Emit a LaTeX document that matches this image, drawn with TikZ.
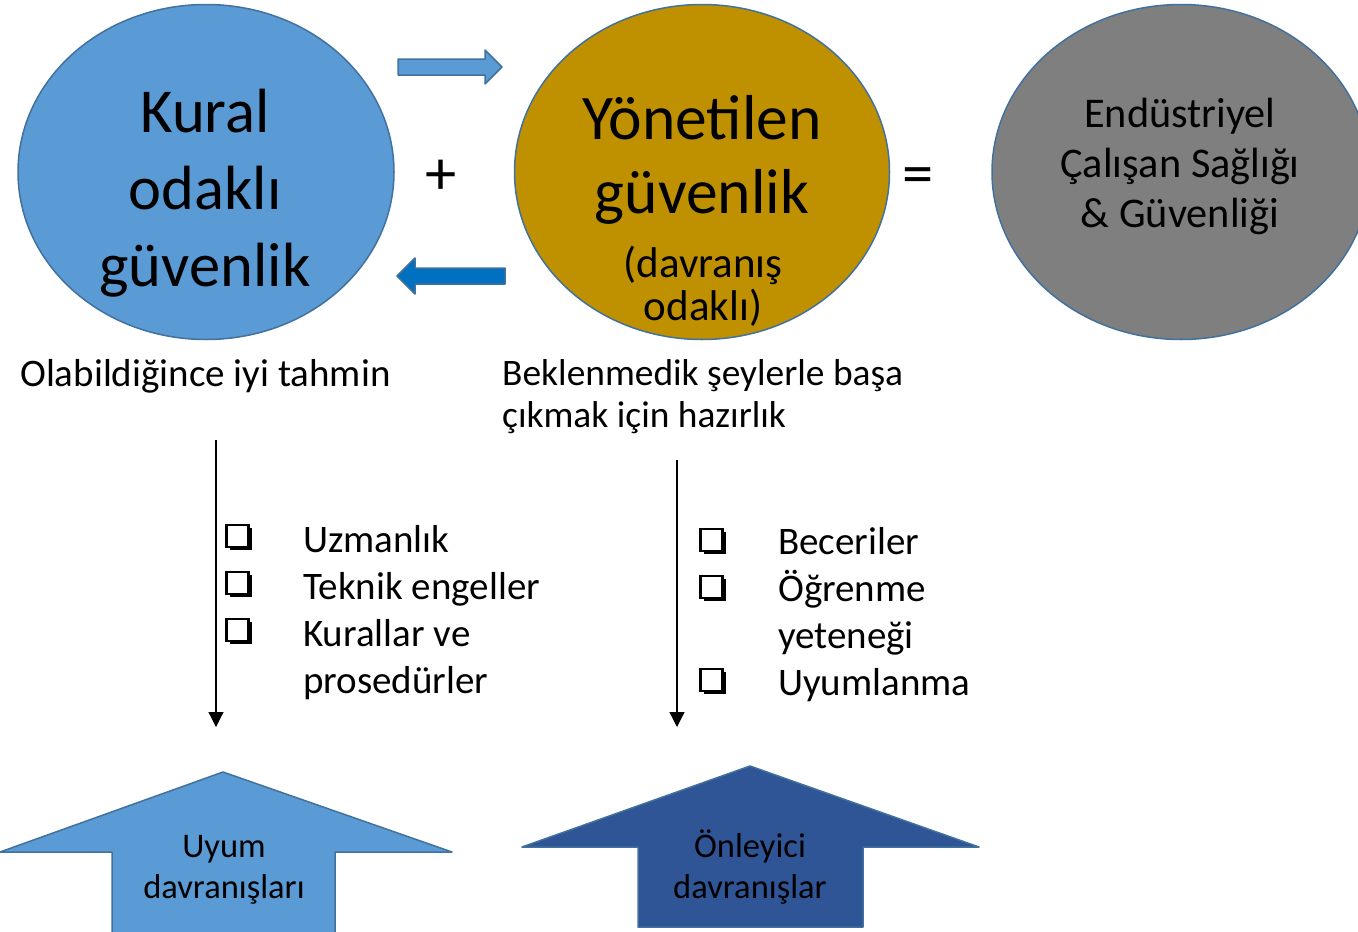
\documentclass[tikz,border=0pt]{standalone}
\usepackage{fontspec}
\setmainfont{Carlito}
\usetikzlibrary{shapes.geometric,arrows.meta,shadows}

\definecolor{kuralblue}{HTML}{5B9BD5}
\definecolor{edgeblue}{HTML}{41719C}
\definecolor{yongold}{HTML}{BF9000}
\definecolor{osgrey}{HTML}{7F7F7F}
\definecolor{backblue}{HTML}{0070C0}
\definecolor{onlblue}{HTML}{2F5597}

\newcommand{\fsBig}{\fontsize{62.5}{77}\selectfont}
\newcommand{\fsYon}{\fontsize{63.5}{74}\selectfont}
\newcommand{\fsDav}{\fontsize{43}{43}\selectfont}
\newcommand{\fsOs}{\fontsize{42.3}{50}\selectfont}
\newcommand{\fsLabel}{\fontsize{39}{42}\selectfont}
\newcommand{\fsLabelB}{\fontsize{37.4}{42}\selectfont}
\newcommand{\fsList}{\fontsize{39}{47}\selectfont}
\newcommand{\fsUp}{\fontsize{34.5}{41}\selectfont}

\begin{document}
\begin{tikzpicture}[x=1pt,y=-1pt,
    circ/.style={ellipse, draw=edgeblue, line width=1.5pt, inner sep=0pt},
    txt/.style={inner sep=0pt, align=center},
    blockarrow/.style={draw=edgeblue, line width=1.5pt, line join=round},
    chkbox/.style={draw=black, fill=white, line width=2.8pt, minimum size=22pt,
        inner sep=0pt, general shadow={fill=black, shadow xshift=3pt, shadow yshift=-3pt}}]
    \useasboundingbox (0,0) rectangle (1358,932);

    % The three circles
    \node[circ, fill=kuralblue, minimum width=376pt, minimum height=335pt] (kural) at (206,172) {};
    \node[circ, fill=yongold, minimum width=375pt, minimum height=335pt] (yonet) at (702,172) {};
    \node[circ, fill=osgrey, minimum width=378pt, minimum height=335pt] (osg) at (1181,172) {};

    % (base of a node with several lines = its last line)
    \node[txt, font=\fsBig, anchor=base] (kuraltxt) at (205,286) {Kural\\odaklı\\güvenlik};
    \node[txt, font=\fsYon, anchor=base] (yonettxt) at (702,213) {Yönetilen\\güvenlik};
    \node[txt, font=\fsDav, anchor=base] (davtxt) at (703,320) {(davranış\\odaklı)};
    \node[txt, font=\fsOs, anchor=base] (osgtxt) at (1180,227) {Endüstriyel\\Çalışan Sağlığı\\\& Güvenliği};

    % Plus and equals
    \node[txt, font=\fsBig] (plus) at (441,177) {+};
    \node[txt, font=\fsBig] (equals) at (918,181) {=};

    % Block arrows between the circles
    \filldraw[blockarrow, fill=kuralblue] (398,59) -- (485,59) -- (485,50) -- (502,67)
        -- (485,84) -- (485,75) -- (398,75) -- cycle;
    \filldraw[blockarrow, fill=backblue] (505,268) -- (415,268) -- (415,258) -- (397,276)
        -- (415,294) -- (415,284) -- (505,284) -- cycle;

    % Labels under the circles
    \node[txt, font=\fsLabel, anchor=base west] (tahmin) at (20,386) {Olabildiğince iyi tahmin};
    \node[txt, font=\fsLabelB, anchor=base west, align=left] (hazirlik) at (502,427)
        {Beklenmedik şeylerle başa\\çıkmak için hazırlık};

    % Down arrows
    \coordinate (ltop) at (216,440);
    \coordinate (lbot) at (216,727);
    \coordinate (rtop) at (677,460);
    \coordinate (rbot) at (677,727);
    \draw[line width=1.2pt, -{Triangle[width=15pt,length=15pt]}] (ltop) -- (lbot);
    \draw[line width=1.2pt, -{Triangle[width=15pt,length=15pt]}] (rtop) -- (rbot);

    % Check lists
    \node[chkbox] (cb1) at (237.5,536) {};
    \node[chkbox] (cb2) at (237.5,583) {};
    \node[chkbox] (cb3) at (237.5,630) {};
    \node[txt, font=\fsList, anchor=base west, align=left] (llist) at (303,693)
        {Uzmanlık\\Teknik engeller\\Kurallar ve\\prosedürler};

    \node[chkbox] (cb4) at (711.5,540) {};
    \node[chkbox] (cb5) at (711.5,587) {};
    \node[chkbox] (cb6) at (711.5,680) {};
    \node[txt, font=\fsList, anchor=base west, align=left] (rlist) at (778,695)
        {Beceriler\\Öğrenme\\yeteneği\\Uyumlanma};

    % Up arrows at the bottom
    \filldraw[blockarrow, fill=kuralblue] (112,945) -- (112,852) -- (0,852) -- (223,772)
        -- (452,852) -- (335,852) -- (335,945) -- cycle;
    \filldraw[blockarrow, fill=onlblue] (638,927) -- (638,847) -- (522,847) -- (750,766)
        -- (979,847) -- (863,847) -- (863,927) -- cycle;

    \node[txt, font=\fsUp, anchor=base] (uyumtxt) at (224,898) {Uyum\\davranışları};
    \node[txt, font=\fsUp, anchor=base] (onltxt) at (750,898) {Önleyici\\davranışlar};
\end{tikzpicture}
\end{document}
